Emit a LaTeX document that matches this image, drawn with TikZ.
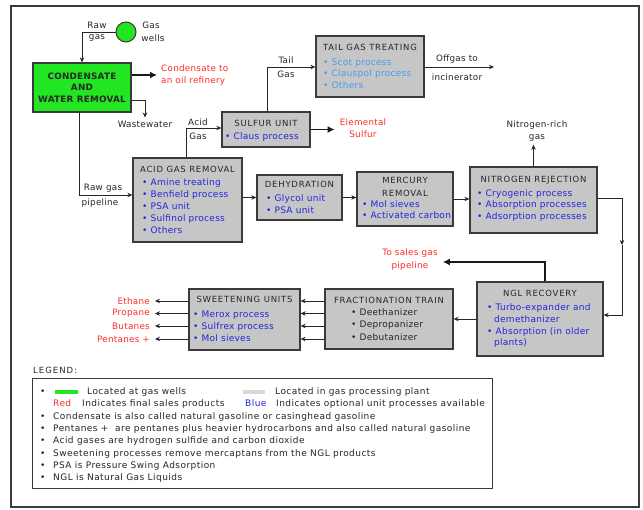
\documentclass[tikz,border=0pt]{standalone}
\usepackage{fontspec}
\setmainfont{DejaVu Sans}
\newfontfamily\itemfont[LetterSpace=3]{DejaVu Sans}
\newfontfamily\capsfont[LetterSpace=9]{DejaVu Sans}
\newfontfamily\legfont[LetterSpace=5]{DejaVu Sans}
\newfontfamily\labfont[LetterSpace=3]{DejaVu Sans}
\newfontfamily\headfont[LetterSpace=12]{DejaVu Sans}
\usetikzlibrary{arrows.meta}
\definecolor{boxgray}{HTML}{C6C6C6}
\definecolor{lightgray2}{HTML}{D8D8D8}
\definecolor{wellgreen}{HTML}{22E622}
\definecolor{prodred}{HTML}{FF2A2A}
\definecolor{optblue}{HTML}{2525DD}
\definecolor{liteblue}{HTML}{4A9AF0}
\definecolor{edge}{HTML}{3A3A3A}
\begin{document}
\begin{tikzpicture}[x=1pt,y=-1pt,
  ubox/.style={draw=edge, line width=1.3pt, fill=boxgray, inner sep=0},
  ttl/.style={font=\capsfont\fontsize{8.5}{13}\selectfont, inner sep=0, text=black!85, align=center},
  itm/.style={font=\itemfont\fontsize{9}{10}\selectfont, inner sep=0, anchor=west, text=optblue, text height=6.5pt, text depth=1.5pt},
  lab/.style={font=\labfont\fontsize{8.8}{12.5}\selectfont, inner sep=0, align=center, text=black!85},
  rlab/.style={lab, text=prodred},
  leg/.style={font=\legfont\fontsize{9}{10}\selectfont, inner sep=0, anchor=west, text=black!85, text height=6.5pt, text depth=1.5pt},
  conn/.style={draw=black!85, line width=0.9pt, -{Stealth[length=5pt,width=4.5pt]}},
  prod/.style={draw=black!90, line width=1.7pt, -{Latex[length=7pt,width=7pt]}}
]
\useasboundingbox (0,0) rectangle (643,510);
\fill[white] (0,0) rectangle (643,510);
\draw[edge, line width=1.6pt] (11,6) rectangle (639,507);

% ---------- wells and condensate ----------
\node[circle, draw=edge, line width=1pt, fill=wellgreen, minimum size=20pt, inner sep=0] (wells) at (126,32) {};
\node[lab] (rawa) at (97,25) {Raw};
\node[lab] (rawb) at (97,38) {gas};
\node[lab] (gwa) at (151,25) {Gas};
\node[lab] (gwb) at (153,38) {wells};

\node[ubox, fill=wellgreen, minimum width=98pt, minimum height=49pt] (cond) at (82,87.5) {};
\node[font=\labfont\bfseries\fontsize{8.8}{11.5}\selectfont, align=center, inner sep=0, text=black!85] (condt) at (82,87.5) {CONDENSATE\\AND\\WATER REMOVAL};

\node[rlab, align=left, anchor=west] (condp) at (161,75) {Condensate to\\an oil refinery};
\node[lab] (waste) at (145,124) {Wastewater};

% ---------- units ----------
\node[ubox, minimum width=109pt, minimum height=84pt] (acid) at (187.5,200) {};
\node[ttl] (acidt) at (187.5,169) {ACID GAS REMOVAL};
\foreach \t [count=\i] in {Amine treating,Benfield process,PSA unit,Sulfinol process,Others}
  \node[itm] (acidL\i) at (142,{183+12*(\i-1)}) {• \t};

\node[ubox, minimum width=88pt, minimum height=35pt] (sulfur) at (266,129.5) {};
\node[ttl] (sulfurt) at (266,123) {SULFUR UNIT};
\node[itm] (sulfurL1) at (225,137) {• Claus process};

\node[ubox, minimum width=108pt, minimum height=61pt] (tail) at (370,66.5) {};
\node[ttl] (tailt) at (370,47) {TAIL GAS TREATING};
\foreach \t [count=\i] in {Scot process,Clauspol process,Others}
  \node[itm, text=liteblue] (tailL\i) at (323,{63+11.5*(\i-1)}) {• \t};

\node[ubox, minimum width=85pt, minimum height=45pt] (dehyd) at (299.5,197.5) {};
\node[ttl] (dehydt) at (299.5,184) {DEHYDRATION};
\foreach \t [count=\i] in {Glycol unit,PSA unit}
  \node[itm] (dehydL\i) at (266,{199+12*(\i-1)}) {• \t};

\node[ubox, minimum width=96pt, minimum height=54pt] (merc) at (405,199) {};
\node[ttl] (merct) at (405,186.5) {MERCURY\\REMOVAL};
\foreach \t [count=\i] in {Mol sieves,Activated carbon}
  \node[itm] (mercL\i) at (362,{205+11.5*(\i-1)}) {• \t};

\node[ubox, minimum width=127pt, minimum height=66pt] (nitro) at (533.5,200) {};
\node[ttl] (nitrot) at (533.5,180) {NITROGEN REJECTION};
\foreach \t [count=\i] in {Cryogenic process,Absorption processes,Adsorption processes}
  \node[itm] (nitroL\i) at (477,{194+11.5*(\i-1)}) {• \t};

\node[ubox, minimum width=126pt, minimum height=74pt] (ngl) at (540,319) {};
\node[ttl] (nglt) at (540,293) {NGL RECOVERY};
\node[itm] (nglL1) at (487,308) {• Turbo-expander and};
\node[itm] (nglL2) at (494,320) {demethanizer};
\node[itm] (nglL3) at (487,332) {• Absorption (in older};
\node[itm] (nglL4) at (494,343.5) {plants)};

\node[ubox, minimum width=128pt, minimum height=60pt] (frac) at (389,319) {};
\node[ttl] (fract) at (389,300) {FRACTIONATION TRAIN};
\foreach \t [count=\i] in {Deethanizer,Depropanizer,Debutanizer}
  \node[itm, text=black!85] (fracL\i) at (351,{313+12.5*(\i-1)}) {• \t};

\node[ubox, minimum width=111pt, minimum height=61pt] (sweet) at (244.5,319.5) {};
\node[ttl] (sweett) at (244.5,299) {SWEETENING UNITS};
\foreach \t [count=\i] in {Merox process,Sulfrex process,Mol sieves}
  \node[itm] (sweetL\i) at (193,{315+12*(\i-1)}) {• \t};

% ---------- stream labels ----------
\node[lab] (rgpa) at (103,188) {Raw gas};
\node[lab] (rgpb) at (100,203) {pipeline};
\node[lab] (aga) at (198,122) {Acid};
\node[lab] (agb) at (198,136) {Gas};
\node[rlab] (elem) at (363,128) {Elemental\\Sulfur};
\node[lab] (tga) at (286,60) {Tail};
\node[lab] (tgb) at (286,74) {Gas};
\node[lab] (oga) at (457,59) {Offgas to};
\node[lab] (ogb) at (457,77) {incinerator};
\node[lab] (nrich) at (537,131) {Nitrogen-rich\\gas};
\node[rlab] (sales) at (410,259.5) {To sales gas\\pipeline};
\node[rlab, anchor=east] (eth) at (150,301) {Ethane};
\node[rlab, anchor=east] (pro) at (150,313.5) {Propane};
\node[rlab, anchor=east] (but) at (150,326) {Butanes};
\node[rlab, anchor=east] (pen) at (150,339) {Pentanes +};

% ---------- connectors ----------
\coordinate (rg) at (79,195);
\coordinate (ag) at (186,128);
\coordinate (tg) at (267,67);
\coordinate (og) at (494,67);
\coordinate (nn) at (622,198);
\coordinate (nmid) at (622,245);
\coordinate (nn2) at (622,315);
\coordinate (sg) at (545,262);

\draw[conn] (wells.west) -| (cond.north);
\draw[prod] (cond.east |- condp.west) -- ([xshift=-4pt]condp.west);
\draw[conn] ([yshift=-12.5pt]cond.east) -| ([yshift=3pt]waste.north);
\draw[conn] (cond.south -| rg) -- (rg) -- (acid.west |- rg);
\draw[conn] (acid.north -| ag) -- (ag) -- (sulfur.west |- ag);
\draw[prod] (sulfur.east) -- ([xshift=-5pt]elem.west |- sulfur.east);
\draw[conn] (sulfur.north -| tg) -- (tg) -- (tail.west |- tg);
\draw[conn] (tail.east |- og) -- (og);
\draw[conn] (acid.east |- dehyd.west) -- (dehyd.west);
\draw[conn] (dehyd.east) -- (merc.west |- dehyd.east);
\draw[conn] (merc.east) -- (nitro.west |- merc.east);
\draw[conn] (nitro.north) -- ([yshift=-3pt]nitro.north |- nrich.south);
\draw[conn] (nitro.east |- nn) -- (nn) -- (nmid);
\draw[conn] (nmid) -- (nn2) -- (ngl.east |- nn2);
\draw[prod] (ngl.north -| sg) -- (sg) -- ([xshift=5pt]sales.east |- sg);
\draw[conn] (ngl.west) -- (frac.east);
\foreach \p in {eth,pro,but,pen}{
  \draw[conn] (frac.west |- \p) -- (sweet.east |- \p);
  \draw[conn] (sweet.west |- \p) -- ([xshift=5pt]\p.east);
}

% ---------- legend ----------
\node[font=\headfont\fontsize{8.5}{9}\selectfont, inner sep=0, anchor=west, text=black!85] (legt) at (33,370) {LEGEND:};
\node[draw=edge, line width=1pt, minimum width=460pt, minimum height=110pt, inner sep=0] (legbox) at (262,434) {};
\node[leg] (lb1) at (40,392) {•};
\node[fill=wellgreen, minimum width=23pt, minimum height=4pt, inner sep=0] (lgreen) at (66.5,392) {};
\node[leg] (l1a) at (87,392) {Located at gas wells};
\node[fill=lightgray2, minimum width=22pt, minimum height=4pt, inner sep=0] (lgray) at (254,392) {};
\node[leg] (l1b) at (275,392) {Located in gas processing plant};
\node[leg, text=prodred] (l2r) at (53,404.3) {Red};
\node[leg] (l2a) at (82,404.3) {Indicates final sales products};
\node[leg, text=optblue] (l2b) at (245,404.3) {Blue};
\node[leg] (l2c) at (276,404.3) {Indicates optional unit processes available};
\foreach \t [count=\i] in {Condensate is also called natural gasoline or casinghead gasoline,
  Pentanes +\ \ are pentanes plus heavier hydrocarbons and also called natural gasoline,
  Acid gases are hydrogen sulfide and carbon dioxide,
  Sweetening processes remove mercaptans from the NGL products,
  PSA is Pressure Swing Adsorption,
  NGL is Natural Gas Liquids}{
  \node[leg] (lbul\i) at (40,{404.3+12.35*\i}) {•};
  \node[leg] (ltx\i) at (53,{404.3+12.35*\i}) {\t};
}
\end{tikzpicture}
\end{document}
